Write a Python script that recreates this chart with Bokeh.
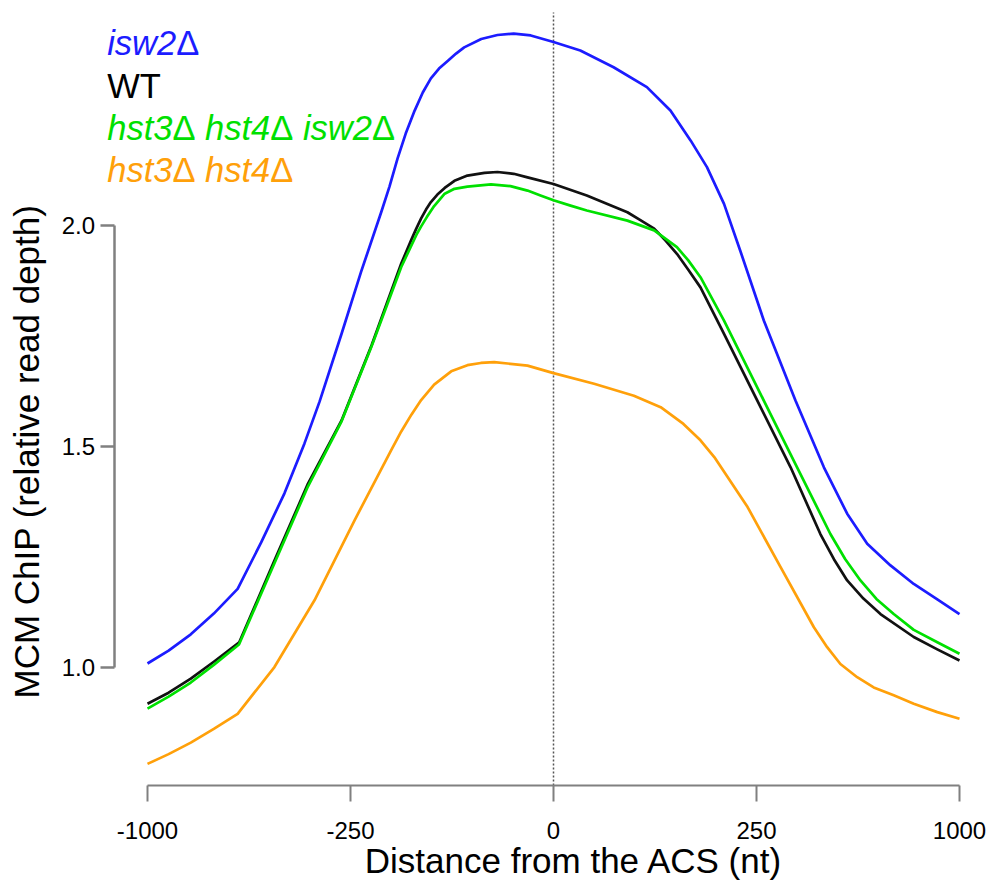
import numpy as np
from bokeh.plotting import figure
from bokeh.models import Range1d, FixedTicker, Label
from bokeh.embed import file_html
from bokeh.resources import INLINE

# ---------------- data ----------------
TICK_NT = [-1000, -250, 0, 250, 1000]
TICK_LABELS = ["-1000", "-250", "0", "250", "1000"]
Y_TICKS = [1.0, 1.5, 2.0]
Y_TICK_LABELS = ["1.0", "1.5", "2.0"]

isw2_x = [-1000, -922, -840, -755, -667, -580, -494, -420, -364, -283, -237, -212, -202, -192, -182, -171,
          -161, -151, -141, -130, -120, -110, -89, -69, -49, -28, 0, 33, 74, 115, 144, 169,
          189, 210, 230, 277, 394, 499, 585, 659, 745, 831, 918, 1000]
isw2_y = [1.009, 1.038, 1.075, 1.122, 1.178, 1.283, 1.394, 1.507, 1.602, 1.755, 1.895, 2.031, 2.088, 2.152, 2.208, 2.260,
          2.301, 2.333, 2.355, 2.373, 2.389, 2.403, 2.422, 2.431, 2.434, 2.430, 2.415, 2.396, 2.358, 2.313, 2.260, 2.192,
          2.132, 2.049, 1.943, 1.785, 1.604, 1.453, 1.348, 1.280, 1.231, 1.189, 1.154, 1.121]

wt_x = [-1000, -922, -840, -755, -661, -531, -407, -283, -224, -187.5, -175, -169, -163, -157, -151, -143,
        -134, -122, -106, -85, -69, -49, -32, 0, 41, 91, 107, 124, 138, 152, 166, 181,
        210, 253, 376, 486, 536, 585, 645, 708, 831, 918, 1000]
wt_y = [0.918, 0.943, 0.975, 1.013, 1.057, 1.242, 1.416, 1.559, 1.729, 1.914, 1.968, 1.993, 2.016, 2.036, 2.053, 2.070,
        2.085, 2.101, 2.113, 2.119, 2.121, 2.117, 2.109, 2.094, 2.068, 2.030, 2.012, 1.993, 1.966, 1.936, 1.900, 1.860,
        1.755, 1.604, 1.453, 1.302, 1.245, 1.197, 1.156, 1.121, 1.069, 1.041, 1.016]

hhi_x = [-1000, -922, -840, -755, -662, -531, -407, -283, -224, -187.5, -175, -168, -163, -156, -147, -134,
         -122, -106, -77, -53, -32, -16, 0, 21, 41, 91, 124, 152, 166, 181, 210, 277,
         400, 523, 578, 634, 693, 757, 831, 918, 1000]
hhi_y = [0.907, 0.934, 0.966, 1.006, 1.052, 1.236, 1.410, 1.557, 1.727, 1.906, 1.955, 1.982, 1.998, 2.019, 2.044, 2.072,
         2.083, 2.088, 2.093, 2.089, 2.079, 2.068, 2.057, 2.045, 2.034, 2.011, 1.989, 1.951, 1.921, 1.883, 1.785, 1.604,
         1.453, 1.302, 1.245, 1.197, 1.155, 1.121, 1.085, 1.057, 1.031]

hh_x = [-1000, -922, -840, -755, -667, -531, -383, -245, -200, -187.5, -175, -163, -147, -126, -106, -89.5, -73, -32, 0,
        50, 99, 132, 160, 181, 198, 239, 339, 462, 511, 560, 622, 683, 757, 831, 918, 1000]
hh_y = [0.782, 0.804, 0.830, 0.861, 0.895, 1.001, 1.152, 1.333, 1.491, 1.534, 1.572, 1.605, 1.640, 1.670, 1.684, 1.689, 1.691, 1.683, 1.666,
        1.642, 1.615, 1.589, 1.551, 1.514, 1.476, 1.363, 1.227, 1.091, 1.046, 1.008, 0.978, 0.955, 0.937, 0.918, 0.899, 0.884]

BLUE, BLACK, GREEN, ORANGE = "#1c1cff", "#111111", "#00e000", "#ffa00a"
SERIES = [
    ("isw2", isw2_x, isw2_y, BLUE),
    ("WT", wt_x, wt_y, BLACK),
    ("hhi", hhi_x, hhi_y, GREEN),
    ("hh", hh_x, hh_y, ORANGE),
]

LEGEND_LINES = [
    [("isw2", "italic"), ("Δ", "normal")],
    [("WT", "normal")],
    [("hst3", "italic"), ("Δ", "normal"), (" hst4", "italic"), ("Δ", "normal"),
     (" isw2", "italic"), ("Δ", "normal")],
    [("hst3", "italic"), ("Δ", "normal"), (" hst4", "italic"), ("Δ", "normal")],
]
LEGEND_COLORS = [BLUE, "#000000", GREEN, ORANGE]
X_TITLE = "Distance from the ACS (nt)"
Y_TITLE = "MCM ChIP (relative read depth)"

# ---------------- helpers ----------------
TICK_POS = list(range(len(TICK_NT)))


def pos(nt):
    # evenly spaced axis segments between the labelled distances
    return np.interp(np.asarray(nt, dtype=float), TICK_NT, TICK_POS)


FONT = "Liberation Sans"
ADV = {'h': 0.556, 's': 0.5, 't': 0.278, '3': 0.556, '4': 0.556, 'i': 0.222, 'w': 0.722,
       '2': 0.556, ' ': 0.278, 'Δ': 0.668, 'W': 0.944, 'T': 0.611}
LEG_SIZE = 34.5

X0, X1 = -0.72414, 4.15271
Y0, Y1 = 0.51357, 2.50905
X_AXIS_AT = 0.733      # where the x axis line sits
Y_AXIS_AT = -0.165     # where the y axis line sits
TOP = 2.4819           # top of the dotted reference line

# ---------------- figure ----------------
p = figure(width=990, height=882, output_backend="svg", toolbar_location=None,
           x_range=Range1d(X0, X1), y_range=Range1d(Y0, Y1),
           min_border_left=0, min_border_right=0, min_border_top=0, min_border_bottom=0)
p.outline_line_color = None
p.xgrid.visible = False
p.ygrid.visible = False
p.background_fill_color = "white"
p.border_fill_color = "white"

AX_COL = "#808080"
for ax in (p.xaxis[0], p.yaxis[0]):
    ax.axis_line_color = AX_COL
    ax.major_tick_line_color = AX_COL
    ax.minor_tick_line_color = None
    ax.major_tick_in = 0
    ax.major_label_text_font = FONT
    ax.major_label_text_font_size = "24px"
    ax.major_label_text_color = "black"

p.xaxis.fixed_location = X_AXIS_AT
p.xaxis.ticker = FixedTicker(ticks=TICK_POS)
p.xaxis.major_label_overrides = {t: l for t, l in zip(TICK_POS, TICK_LABELS)}
p.xaxis.bounds = (TICK_POS[0], TICK_POS[-1])
p.xaxis.major_tick_out = 16
p.xaxis.axis_line_width = 2
p.xaxis.major_tick_line_width = 2
p.xaxis.major_label_standoff = 20

p.yaxis.fixed_location = Y_AXIS_AT
p.yaxis.ticker = FixedTicker(ticks=Y_TICKS)
p.yaxis.major_label_overrides = {t: l for t, l in zip(Y_TICKS, Y_TICK_LABELS)}
p.yaxis.bounds = (Y_TICKS[0], Y_TICKS[-1])
p.yaxis.major_tick_out = 14
p.yaxis.axis_line_width = 2.5
p.yaxis.major_tick_line_width = 2.5
p.yaxis.major_label_standoff = 5

# dotted line at the ACS
p.segment(x0=[float(pos(0))], y0=[X_AXIS_AT], x1=[float(pos(0))], y1=[TOP],
          line_color="#555555", line_dash="2 2", line_width=1.5)

for name, xs, ys, col in SERIES:
    p.line(pos(xs), ys, line_color=col, line_width=2.7, line_join="round")

# axis titles
p.add_layout(Label(x=2.1005, y=0.5633, text=X_TITLE, text_font=FONT, text_font_size="35px",
                   text_align="center", text_baseline="alphabetic", text_color="black"))
p.add_layout(Label(x=-0.596, y=1.4887, text=Y_TITLE, text_font=FONT, text_font_size="35px",
                   text_align="center", text_baseline="middle", angle=np.pi / 2,
                   text_color="black"))

# legend text (italic gene names, upright deltas)
LEG_X = -0.1985
LEG_Y = [2.412, 2.316, 2.221, 2.125]
for segs, col, ly in zip(LEGEND_LINES, LEGEND_COLORS, LEG_Y):
    off = 0.0
    for txt, style in segs:
        stripped = txt.lstrip(" ")
        off += ADV[' '] * LEG_SIZE * (len(txt) - len(stripped))
        p.add_layout(Label(x=LEG_X, y=ly, x_offset=off, text=stripped, text_font=FONT,
                           text_font_size=f"{LEG_SIZE}px", text_font_style=style,
                           text_color=col, text_align="left", text_baseline="alphabetic"))
        off += sum(ADV[c] for c in stripped) * LEG_SIZE

open("out.html", "w").write(file_html(p, INLINE))
